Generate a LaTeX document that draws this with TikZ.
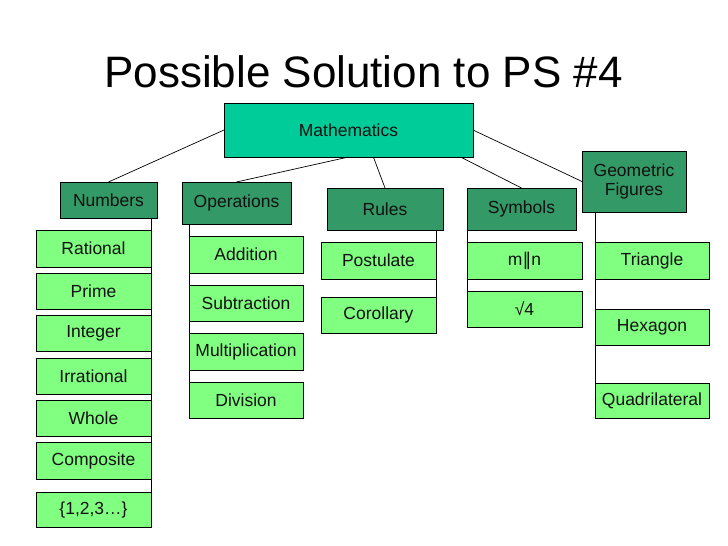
\documentclass[tikz,border=0pt]{standalone}
\usepackage{fontspec}
\setmainfont{Liberation Sans}
\newfontfamily\dejavu{DejaVu Sans}
\usetikzlibrary{calc}
\definecolor{mathc}{HTML}{00CC99}
\definecolor{catc}{HTML}{339966}
\definecolor{leafc}{HTML}{80FF80}
\definecolor{txtc}{HTML}{111111}
\tikzset{
  boxbase/.style={draw=black, line width=0.8pt, inner sep=0pt, outer sep=0pt, text=txtc, font=\fontsize{17.5}{21}\selectfont, align=center},
  mathbox/.style={boxbase, fill=mathc},
  catbox/.style={boxbase, fill=catc},
  leafbox/.style={boxbase, fill=leafc},
  conn/.style={draw=black, line width=0.7pt}
}
\newcommand\mkbox[7]{%
  \node[#6, minimum width={#4-#2}, minimum height={#5-#3}] (#1) at ({(#2+#4)/2},{(#3+#5)/2}) {#7};}
\begin{document}
\begin{tikzpicture}[x=1pt,y=-1pt]
\useasboundingbox (0,0) rectangle (728,546);
\node[anchor=base, font=\fontsize{44}{50}\selectfont, text=black, inner sep=0pt] (title) at (363.5,87) {Possible Solution to PS \#4};

\mkbox{math}{224}{103}{473}{157}{mathbox}{Mathematics}
\mkbox{num}{60}{182}{157}{218}{catbox}{Numbers}
\mkbox{ops}{182}{182}{291}{224}{catbox}{Operations}
\mkbox{rul}{327}{188}{443}{230}{catbox}{Rules}
\mkbox{sym}{467}{188}{576}{230}{catbox}{Symbols}
\mkbox{geo}{582}{151}{686}{212}{catbox}{Geometric\\[-2pt]Figures}

\mkbox{n1}{36}{230}{151}{267}{leafbox}{Rational}
\mkbox{n2}{36}{273}{151}{309}{leafbox}{Prime}
\mkbox{n3}{36}{315}{151}{351}{leafbox}{Integer}
\mkbox{n4}{36}{358}{151}{394}{leafbox}{Irrational}
\mkbox{n5}{36}{400}{151}{436}{leafbox}{Whole}
\mkbox{n6}{36}{442}{151}{479}{leafbox}{Composite}
\mkbox{n7}{36}{492}{151}{527}{leafbox}{\{1,2,3…\}}

\mkbox{o1}{189}{236}{303}{273}{leafbox}{Addition}
\mkbox{o2}{189}{285}{303}{321}{leafbox}{Subtraction}
\mkbox{o3}{189}{333}{303}{370}{leafbox}{Multiplication}
\mkbox{o4}{189}{382}{303}{418}{leafbox}{Division}

\mkbox{r1}{321}{242}{436}{279}{leafbox}{Postulate}
\mkbox{r2}{321}{297}{436}{333}{leafbox}{Corollary}

\mkbox{s1}{467}{242}{582}{279}{leafbox}{m{\dejavu ‖}n}
\mkbox{s2}{467}{291}{582}{327}{leafbox}{√4}

\mkbox{g1}{595}{242}{709}{279}{leafbox}{Triangle}
\mkbox{g2}{595}{309}{709}{345}{leafbox}{Hexagon}
\mkbox{g3}{595}{383}{709}{418}{leafbox}{Quadrilateral}

% connectors from Mathematics
\draw[conn] (math.west) -- (num.north);
\draw[conn] (math.south) -- (ops.north);
\draw[conn] ($(math.south west)!0.6!(math.south east)$) -- (rul.north);
\draw[conn] ($(math.south west)!0.95!(math.south east)$) -- (sym.north);
\draw[conn] (math.east) -- (geo.west);

% vertical spines
\draw[conn] (n7.north east |- num.south) -- (n7.north east);
\draw[conn] (o4.north west |- ops.south) -- (o4.north west);
\draw[conn] (r2.north east |- rul.south) -- (r2.north east);
\draw[conn] (s2.north west |- sym.south) -- (s2.north west);
\draw[conn] (g3.north west |- geo.south) -- (g3.north west);
\end{tikzpicture}
\end{document}
